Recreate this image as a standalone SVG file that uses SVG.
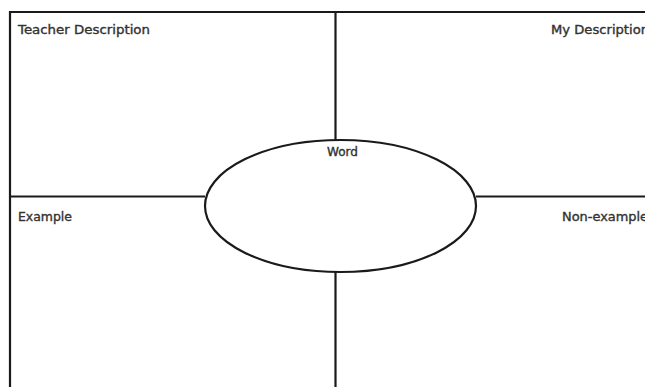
<svg xmlns="http://www.w3.org/2000/svg" width="645" height="387" viewBox="0 0 645 387">
<style>
.ln{stroke:#1a1a1a;stroke-width:2.2;fill:none}
.lbl{font-family:"DejaVu Sans","Liberation Sans",sans-serif;font-size:11.5px;fill:#333333;stroke:#333333;stroke-width:0.35}
</style>
<rect width="645" height="387" fill="#ffffff"/>
<g id="frame">
<path class="ln" d="M10,400 V12 H660"/>
</g>
<g id="connectors">
<line class="ln" x1="335.5" y1="12" x2="335.5" y2="140"/>
<line class="ln" x1="335.5" y1="271" x2="335.5" y2="400"/>
<line class="ln" x1="10" y1="196.5" x2="205" y2="196.5"/>
<line class="ln" x1="476" y1="196.5" x2="660" y2="196.5"/>
</g>
<g id="teacher-description">
<text class="lbl" x="18" y="34" textLength="132" lengthAdjust="spacingAndGlyphs">Teacher Description</text>
</g>
<g id="my-description">
<text class="lbl" x="551" y="34" textLength="98" lengthAdjust="spacingAndGlyphs">My Description</text>
</g>
<g id="example">
<text class="lbl" x="18" y="221" textLength="54" lengthAdjust="spacingAndGlyphs">Example</text>
</g>
<g id="non-example">
<text class="lbl" x="562" y="221" textLength="86" lengthAdjust="spacingAndGlyphs">Non-example</text>
</g>
<g id="word">
<ellipse class="ln" cx="340.5" cy="206" rx="135.5" ry="66"/>
<text class="lbl" x="327" y="156" textLength="31" lengthAdjust="spacingAndGlyphs">Word</text>
</g>
</svg>
